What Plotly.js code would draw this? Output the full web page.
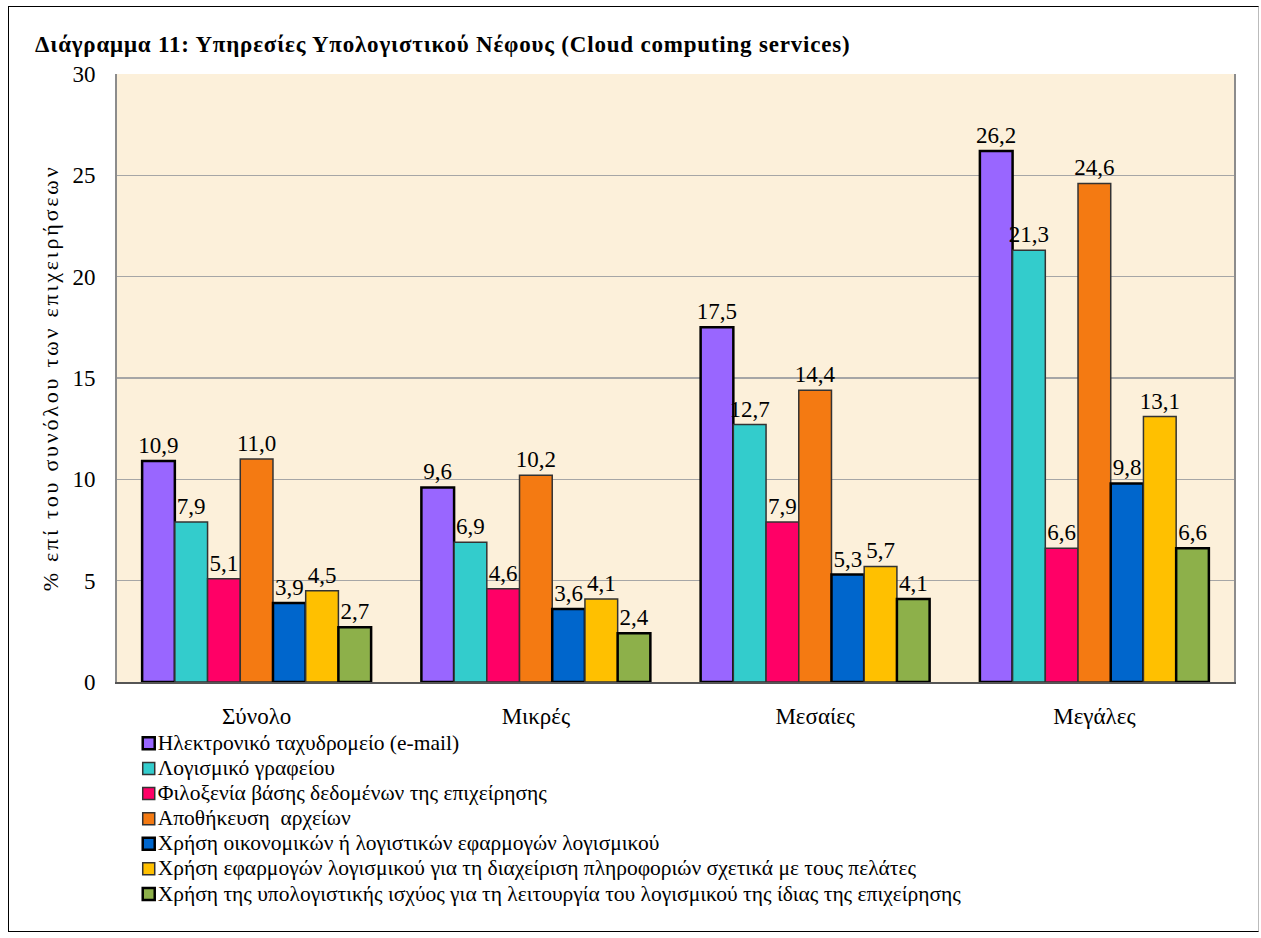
<!DOCTYPE html>
<html>
<head>
<meta charset="utf-8">
<script src="https://cdn.plot.ly/plotly-3.0.1.min.js"></script>
<style>
html,body{margin:0;padding:0;background:#fff;}
#frame{position:absolute;left:8px;top:6px;width:1251px;height:926px;border:1.5px solid #000;border-right-color:#bbb;box-sizing:border-box;pointer-events:none;z-index:5;}
#chart{position:absolute;left:0;top:0;width:1261px;height:938px;}
#chart .legendtext{font-size:21.5px !important;transform:translateX(-11px);}
#chart .legend .scrollbox{clip-path:none !important;}
#chart .ytitle{letter-spacing:2.8px;}
#chart .gtitle{letter-spacing:0.8px;}
</style>
</head>
<body>
<div id="chart"></div>
<div id="frame"></div>
<script>
const categories = ['Σύνολο', 'Μικρές', 'Μεσαίες', 'Μεγάλες'];
const seriesNames = [
  'Ηλεκτρονικό ταχυδρομείο (e-mail)',
  'Λογισμικό γραφείου',
  'Φιλοξενία βάσης δεδομένων της επιχείρησης',
  'Αποθήκευση  αρχείων',
  'Χρήση οικονομικών ή λογιστικών εφαρμογών λογισμικού',
  'Χρήση εφαρμογών λογισμικού για τη διαχείριση πληροφοριών σχετικά με τους πελάτες',
  'Χρήση της υπολογιστικής ισχύος για τη λειτουργία του λογισμικού της ίδιας της επιχείρησης'
];
const emailValues = [10.9, 9.6, 17.5, 26.2];
const officeValues = [7.9, 6.9, 12.7, 21.3];
const databaseValues = [5.1, 4.6, 7.9, 6.6];
const storageValues = [11.0, 10.2, 14.4, 24.6];
const financeValues = [3.9, 3.6, 5.3, 9.8];
const crmValues = [4.5, 4.1, 5.7, 13.1];
const computingValues = [2.7, 2.4, 4.1, 6.6];
const yTickValues = [0, 5, 10, 15, 20, 25, 30];

const allValues = [emailValues, officeValues, databaseValues, storageValues, financeValues, crmValues, computingValues];
const colors = ['#9966FF', '#33CCCC', '#FF0066', '#F47A12', '#0066CC', '#FFC000', '#8DB04A'];
const lineWidths = [2.5, 1.5, 1.5, 1.5, 2.5, 1.5, 2.5];
const lineColors = ['#000', '#333', '#333', '#333', '#000', '#333', '#000'];

const serif = "'Liberation Serif', 'Times New Roman', serif";

const traces = allValues.map((vals, i) => ({
  type: 'bar',
  name: seriesNames[i],
  x: categories,
  y: vals,
  text: vals.map(v => v.toFixed(1).replace('.', ',')),
  textposition: 'outside',
  textfont: {family: serif, size: 23, color: '#000'},
  constraintext: 'none',
  cliponaxis: false,
  marker: {color: colors[i], line: {color: lineColors[i], width: lineWidths[i]}},
  hoverinfo: 'y+name'
}));

const layout = {
  width: 1261,
  height: 938,
  paper_bgcolor: 'rgba(0,0,0,0)',
  plot_bgcolor: '#FCF0DA',
  margin: {l: 117, r: 27, t: 74, b: 256},
  font: {family: serif, color: '#000'},
  title: {
    text: '<b>Διάγραμμα 11: Υπηρεσίες Υπολογιστικού Νέφους (Cloud computing services)</b>',
    font: {family: serif, size: 23, color: '#000'},
    x: 35 / 1261, xanchor: 'left', xref: 'container',
    y: 1 - 44 / 938, yanchor: 'middle', yref: 'container'
  },
  barmode: 'group',
  bargap: 0.18,
  bargroupgap: 0,
  showlegend: true,
  legend: {
    x: 0.0105, xanchor: 'left',
    y: -0.072, yanchor: 'top',
    font: {family: serif, size: 17, color: '#000'},
    bgcolor: 'rgba(0,0,0,0)',
    itemwidth: 30,
    tracegroupgap: 0
  },
  xaxis: {
    type: 'category',
    tickfont: {family: serif, size: 23, color: '#000'},
    showline: true, linecolor: '#555', linewidth: 2, mirror: false,
    ticks: '', ticklabelstandoff: 12,
    showgrid: false, zeroline: false
  },
  yaxis: {
    range: [0, 30],
    tickvals: yTickValues,
    ticktext: yTickValues.map(String),
    tickfont: {family: serif, size: 23, color: '#000'},
    showgrid: true, gridcolor: '#A6A6A6', gridwidth: 1.5,
    showline: true, linecolor: '#8C8C8C', linewidth: 2, mirror: true,
    ticks: '', ticklabelstandoff: 15,
    zeroline: false,
    automargin: true,
    title: {text: '% επί του συνόλου των επιχειρήσεων', font: {family: serif, size: 22, color: '#000'}, standoff: 8}
  }
};

Plotly.newPlot('chart', traces, layout, {displayModeBar: false, staticPlot: true});
</script>
</body>
</html>
